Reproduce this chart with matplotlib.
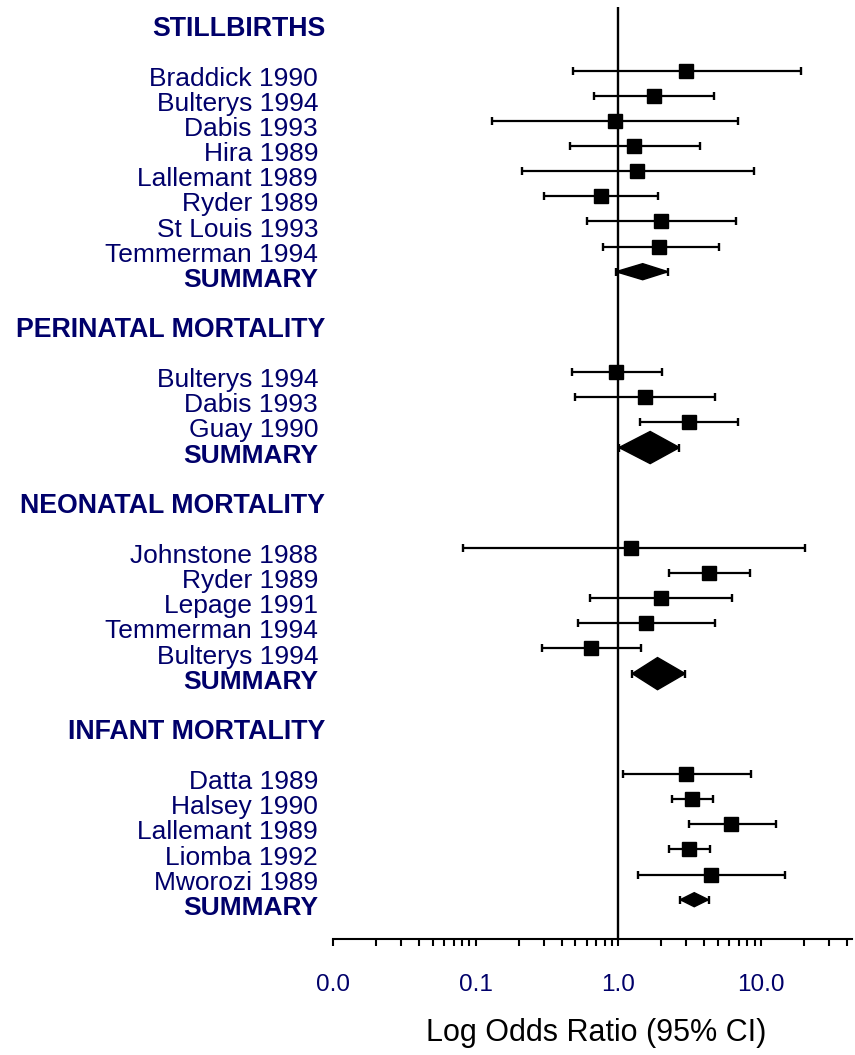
import matplotlib
matplotlib.use("Agg")
import matplotlib.pyplot as plt
from matplotlib.patches import Polygon
from matplotlib.ticker import FixedLocator, FixedFormatter, LogLocator, NullFormatter
import numpy as np

plt.rcParams['font.family'] = ['Liberation Sans', 'DejaVu Sans']

# ---- data: odds ratios with 95% confidence limits ----
still_studies = ["Braddick 1990", "Bulterys 1994", "Dabis 1993", "Hira 1989",
                 "Lallemant 1989", "Ryder 1989", "St Louis 1993", "Temmerman 1994"]
still_or = [2.99, 1.77, 0.94, 1.29, 1.34, 0.75, 1.98, 1.94]
still_lo = [0.48, 0.68, 0.131, 0.46, 0.21, 0.30, 0.60, 0.78]
still_hi = [19.1, 4.69, 6.87, 3.73, 8.93, 1.90, 6.65, 5.03]
still_sum = [1.48, 0.96, 2.23]

peri_studies = ["Bulterys 1994", "Dabis 1993", "Guay 1990"]
peri_or = [0.96, 1.53, 3.10]
peri_lo = [0.47, 0.50, 1.41]
peri_hi = [2.03, 4.72, 6.94]
peri_sum = [1.67, 1.01, 2.68]

neo_studies = ["Johnstone 1988", "Ryder 1989", "Lepage 1991", "Temmerman 1994", "Bulterys 1994"]
neo_or = [1.22, 4.28, 1.98, 1.55, 0.64]
neo_lo = [0.081, 2.25, 0.63, 0.52, 0.29]
neo_hi = [20.4, 8.38, 6.27, 4.75, 1.43]
neo_sum = [1.88, 1.25, 2.94]

inf_studies = ["Datta 1989", "Halsey 1990", "Lallemant 1989", "Liomba 1992", "Mworozi 1989"]
inf_or = [2.99, 3.26, 6.20, 3.10, 4.49]
inf_lo = [1.07, 2.37, 3.10, 2.25, 1.37]
inf_hi = [8.51, 4.59, 12.7, 4.40, 14.8]
inf_sum = [3.40, 2.71, 4.28]

group_titles = ["STILLBIRTHS", "PERINATAL MORTALITY", "NEONATAL MORTALITY", "INFANT MORTALITY"]

tick_values = [0.01, 0.1, 1.0, 10.0]
tick_labels = ["0.0", "0.1", "1.0", "10.0"]

groups = [
    (still_studies, still_or, still_lo, still_hi, still_sum),
    (peri_studies, peri_or, peri_lo, peri_hi, peri_sum),
    (neo_studies, neo_or, neo_lo, neo_hi, neo_sum),
    (inf_studies, inf_or, inf_lo, inf_hi, inf_sum),
]

# diamond half-heights (in row units) for each pooled estimate
diamond_half = [0.32, 0.64, 0.64, 0.28]

NAVY = "#00006a"
W, H = 855, 1055

fig = plt.figure(figsize=(W / 100, H / 100), dpi=100)
ax_left, ax_right, ax_top, ax_bot = 333, 852, 7, 939
ax = fig.add_axes([ax_left / W, 1 - ax_bot / H, (ax_right - ax_left) / W, (ax_bot - ax_top) / H])

ax.set_xscale('log')
ax.set_xlim(0.01, 10 ** ((ax_right - ax_left) / 142.7 - 2))
row_h = 25.12
row0 = 20.5
ax.set_ylim((ax_bot - row0) / row_h, (ax_top - row0) / row_h)

ax.axvline(1.0, color='black', lw=1.7, zorder=1)

lab_x = (318 - ax_left) / (ax_right - ax_left)
head_x = (325 - ax_left) / (ax_right - ax_left)
ytrans = ax.get_yaxis_transform()
text_drop = 0.6

k = 0
for gi, (names, est, lo, hi, summ) in enumerate(groups):
    ax.text(head_x, k + text_drop, group_titles[gi], transform=ytrans, ha='right',
            va='baseline', fontsize=19.3, fontweight='bold', color=NAVY)
    k += 2
    rows = np.arange(k, k + len(names))
    est_a, lo_a, hi_a = np.array(est), np.array(lo), np.array(hi)
    ax.errorbar(est_a, rows, xerr=[est_a - lo_a, hi_a - est_a], fmt='s', color='black',
                ms=9.7, mec='black', elinewidth=1.6, capsize=2.6, capthick=1.7, zorder=3)
    for r, name in zip(rows, names):
        ax.text(lab_x, r + text_drop, name, transform=ytrans, ha='right', va='baseline',
                fontsize=19, color=NAVY)
    k += len(names)
    s_est, s_lo, s_hi = summ
    ax.errorbar([s_est], [k], xerr=[[s_est - s_lo], [s_hi - s_est]], fmt='none',
                ecolor='black', elinewidth=1.6, capsize=2.6, capthick=1.7, zorder=3)
    h = diamond_half[gi]
    ax.add_patch(Polygon([(s_lo, k), (s_est, k - h), (s_hi, k), (s_est, k + h)],
                         closed=True, facecolor='black', edgecolor='black', lw=1, zorder=4))
    ax.text(lab_x, k + text_drop, "SUMMARY", transform=ytrans, ha='right', va='baseline',
            fontsize=19, fontweight='bold', color=NAVY)
    k += 2

for side in ['left', 'right', 'top']:
    ax.spines[side].set_visible(False)
ax.spines['bottom'].set_linewidth(1.5)
ax.set_yticks([])

ax.xaxis.set_major_locator(FixedLocator(tick_values))
ax.xaxis.set_major_formatter(FixedFormatter(tick_labels))
ax.xaxis.set_minor_locator(LogLocator(base=10, subs=np.arange(2, 10)))
ax.xaxis.set_minor_formatter(NullFormatter())
ax.tick_params(axis='x', which='both', direction='out', length=5, width=1.5, color='black')
ax.tick_params(axis='x', which='major', labelsize=17.5, labelcolor=NAVY, pad=20)

fig.text(596 / W, 1 - 1041 / H, "Log Odds Ratio (95% CI)", ha='center', va='baseline',
         fontsize=22, color='black')

fig.savefig("out.png", dpi=100)
